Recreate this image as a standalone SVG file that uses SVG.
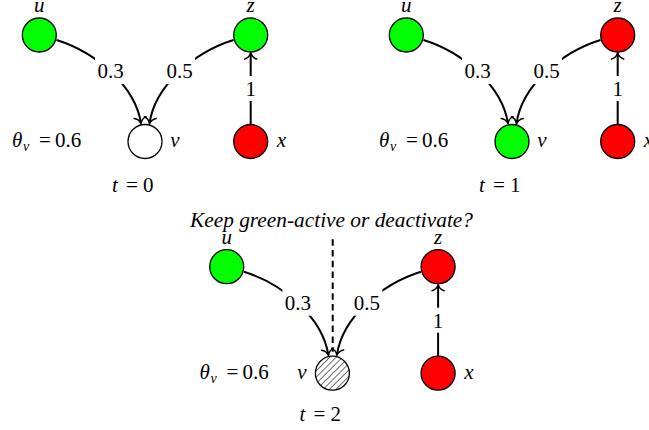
<svg xmlns="http://www.w3.org/2000/svg" width="649" height="430" viewBox="0 0 649 430">
<style>
.nd{stroke:#000;stroke-width:1.3}
.g{fill:#00ff00}.r{fill:#ff0000}.w{fill:#fff}.h{fill:url(#hatch)}
.e{fill:none;stroke:#000;stroke-width:2}
.lb{fill:#fff;stroke:none}
text{font-family:'Liberation Serif','Times New Roman',serif;font-size:21px;fill:#000}
.it{font-style:italic}
.m{text-anchor:middle}
.sub{font-style:italic;font-size:14px}
</style>
<defs>
<marker id="ar" markerUnits="userSpaceOnUse" markerWidth="14" markerHeight="14" viewBox="-8 -7 10 14" refX="0" refY="0" orient="auto" overflow="visible">
<path d="M-6,-6 C-5,-2.2 -1.6,-0.6 0,0 C-1.6,0.6 -5,2.2 -6,6" fill="none" stroke="#000" stroke-width="1.5" stroke-linecap="round"/>
</marker>
<pattern id="hatch" patternUnits="userSpaceOnUse" width="4.5" height="4.5" patternTransform="rotate(45)">
<rect width="4.5" height="4.5" fill="#fff"/>
<line x1="0" y1="0" x2="0" y2="4.5" stroke="#000" stroke-width="1.1"/>
</pattern>
</defs>

<!-- Panel t=0 -->
<g id="panel0">
<g id="edges0">
<path class="e" d="M56.5,40 C95,52 135,85 141,123.5" marker-end="url(#ar)"/>
<path class="e" d="M233.5,40 C195,52 155,85 149.5,123.5" marker-end="url(#ar)"/>
<path class="e" d="M250.7,124.5 L250.7,53" marker-end="url(#ar)"/>
<rect class="lb" x="95" y="56" width="31" height="28"/>
<rect class="lb" x="164" y="56" width="31" height="28"/>
<rect class="lb" x="243" y="76" width="15" height="25"/>
<text class="m" x="110.5" y="78">0.3</text>
<text class="m" x="179.5" y="78">0.5</text>
<text class="m" x="250.7" y="96">1</text>
</g>
<g id="u0"><circle class="nd g" cx="39.3" cy="35" r="17"/><text class="it m" x="39.3" y="12">u</text></g>
<g id="z0"><circle class="nd g" cx="250.7" cy="35" r="17"/><text class="it m" x="250.7" y="12">z</text></g>
<g id="v0"><circle class="nd w" cx="145" cy="141.5" r="17"/><text class="it m" x="175" y="147">v</text></g>
<g id="x0"><circle class="nd r" cx="250.7" cy="141.5" r="17"/><text class="it m" x="281.5" y="147">x</text></g>
<text y="147"><tspan class="it" x="12">θ</tspan><tspan class="sub" x="23" dy="4">v</tspan><tspan x="39" dy="-4">=</tspan><tspan x="55">0.6</tspan></text>
<text y="191.5"><tspan class="it" x="112">t</tspan><tspan x="126">=</tspan><tspan x="143">0</tspan></text>
</g>

<!-- Panel t=1 -->
<g id="panel1" transform="translate(367,0)">
<g id="edges1">
<path class="e" d="M56.5,40 C95,52 135,85 141,123.5" marker-end="url(#ar)"/>
<path class="e" d="M233.5,40 C195,52 155,85 149.5,123.5" marker-end="url(#ar)"/>
<path class="e" d="M250.7,124.5 L250.7,53" marker-end="url(#ar)"/>
<rect class="lb" x="95" y="56" width="31" height="28"/>
<rect class="lb" x="164" y="56" width="31" height="28"/>
<rect class="lb" x="243" y="76" width="15" height="25"/>
<text class="m" x="110.5" y="78">0.3</text>
<text class="m" x="179.5" y="78">0.5</text>
<text class="m" x="250.7" y="96">1</text>
</g>
<g id="u1"><circle class="nd g" cx="39.3" cy="35" r="17"/><text class="it m" x="39.3" y="12">u</text></g>
<g id="z1"><circle class="nd r" cx="250.7" cy="35" r="17"/><text class="it m" x="250.7" y="12">z</text></g>
<g id="v1"><circle class="nd g" cx="145" cy="141.5" r="17"/><text class="it m" x="175" y="147">v</text></g>
<g id="x1"><circle class="nd r" cx="250.7" cy="141.5" r="17"/><text class="it m" x="281.5" y="147">x</text></g>
<text y="147"><tspan class="it" x="12">θ</tspan><tspan class="sub" x="23" dy="4">v</tspan><tspan x="39" dy="-4">=</tspan><tspan x="55">0.6</tspan></text>
<text y="191.5"><tspan class="it" x="112">t</tspan><tspan x="126">=</tspan><tspan x="143">1</tspan></text>
</g>

<!-- Panel t=2 -->
<g id="panel2" transform="translate(187.4,231.7)">
<g id="edges2">
<path class="e" d="M145.3,7.5 L145.3,120" stroke-dasharray="6.5,4.3"/>
<path class="e" d="M56.5,40 C95,52 135,85 141,123.5" marker-end="url(#ar)"/>
<path class="e" d="M233.5,40 C195,52 155,85 149.5,123.5" marker-end="url(#ar)"/>
<path class="e" d="M250.7,124.5 L250.7,53" marker-end="url(#ar)"/>
<rect class="lb" x="95" y="56" width="31" height="28"/>
<rect class="lb" x="164" y="56" width="31" height="28"/>
<rect class="lb" x="243" y="76" width="15" height="25"/>
<text class="m" x="110.5" y="78">0.3</text>
<text class="m" x="179.5" y="78">0.5</text>
<text class="m" x="250.7" y="96">1</text>
</g>
<g id="u2"><circle class="nd g" cx="39.3" cy="35" r="17"/><text class="it m" x="39.3" y="12">u</text></g>
<g id="z2"><circle class="nd r" cx="250.7" cy="35" r="17"/><text class="it m" x="250.7" y="12">z</text></g>
<g id="v2"><circle class="nd h" cx="145" cy="141.5" r="17"/><text class="it m" x="114.5" y="147">v</text></g>
<g id="x2"><circle class="nd r" cx="250.7" cy="141.5" r="17"/><text class="it m" x="281.5" y="147">x</text></g>
<text y="147"><tspan class="it" x="12">θ</tspan><tspan class="sub" x="23" dy="4">v</tspan><tspan x="39" dy="-4">=</tspan><tspan x="55">0.6</tspan></text>
<text y="189.5"><tspan class="it" x="112">t</tspan><tspan x="126">=</tspan><tspan x="143">2</tspan></text>
</g>
<text class="it" x="190" y="227" textLength="283" lengthAdjust="spacingAndGlyphs">Keep green-active or deactivate?</text>
</svg>
